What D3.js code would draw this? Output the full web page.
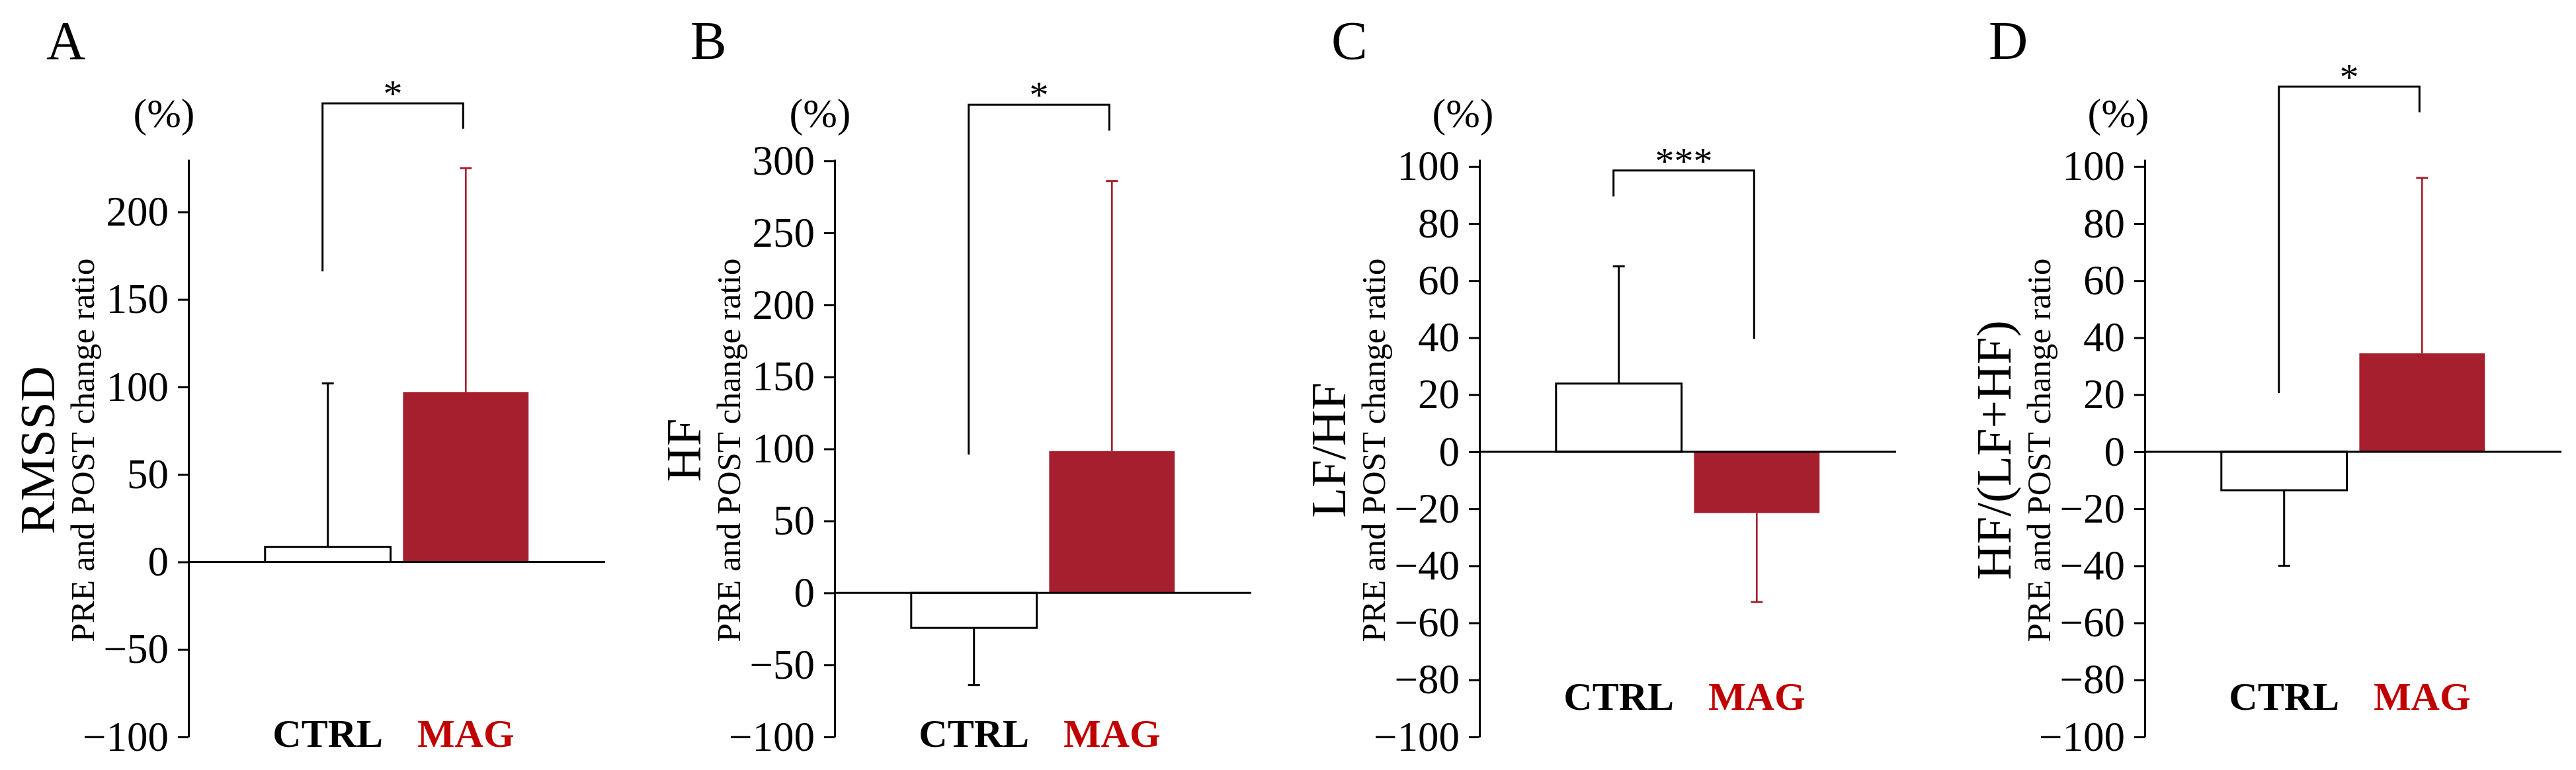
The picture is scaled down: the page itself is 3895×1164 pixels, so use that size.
<!DOCTYPE html>
<html>
<head>
<meta charset="utf-8">
<style>
    body { margin: 0; background: #fff; }
    svg { display: block; font-family: 'Liberation Serif', 'Times New Roman', serif; }
</style>
</head>
<body>
<svg width="3895" height="1164"></svg>

<script src="https://d3js.org/d3.v7.min.js"></script>
<script>
    // values
    const groups = ["CTRL", "MAG"];
    const panelLetters = ["A", "B", "C", "D"];
    const panelTitles = ["RMSSD", "HF", "LF/HF", "HF/(LF+HF)"];
    const subtitle = "PRE and POST change ratio";

    const ctrlMeans = [8.6, -24.3, 23.9, -13.5];
    const ctrlSD = [93.4, 39.7, 41.1, 26.5];
    const magMeans = [97, 98.4, -21.5, 34.5];
    const magSD = [128, 187.6, 31.2, 61.5];

    const yMin = -100;
    const yAxisMax = [230, 301, 102.5, 102.5];
    const yTicks = [
        [-100, -50, 0, 50, 100, 150, 200],
        [-100, -50, 0, 50, 100, 150, 200, 250, 300],
        [-100, -80, -60, -40, -20, 0, 20, 40, 60, 80, 100],
        [-100, -80, -60, -40, -20, 0, 20, 40, 60, 80, 100]
    ];

    // significance brackets (top, left leg end, right leg end) in axis units
    const sigLabels = ["*", "*", "***", "*"];
    const sigTop = [262, 339, 98.6, 128];
    const sigLeftEnd = [166, 96, 89.5, 20.6];
    const sigRightEnd = [247.5, 321, 39.6, 119];

    // layout
    const axisX = [285, 1262, 2237, 3243];
    const letterX = [70, 1044, 2013, 3007];
    const pctX = [248, 1240, 2212, 3203];
    const groupLabelY = [1129, 1129, 1073, 1073];
    const plotW = 630;
    const yBottom = 1114, yTop = 241;
    const red = "#a51f2f";
    const labelRed = "#c00000";

    let svg = d3.select("svg");

    panelLetters.forEach((letter, i) => {
        let g = svg.append("g").attr("transform", `translate(${axisX[i]},0)`);

        let y = d3.scaleLinear()
            .domain([yMin, yAxisMax[i]])
            .range([yBottom, yTop]);

        let x = d3.scaleBand()
            .domain(groups)
            .range([0, plotW])
            .paddingInner(0.09)
            .paddingOuter(0.555);

        // panel letter and unit
        svg.append("text")
            .attr("x", letterX[i])
            .attr("y", 89)
            .style("font-size", "82px")
            .text(letter);

        svg.append("text")
            .attr("x", pctX[i])
            .attr("y", 192)
            .attr("text-anchor", "middle")
            .style("font-size", "62px")
            .text("(%)");

        // y titles
        g.append("text")
            .attr("transform", `translate(-203,${(yBottom + yTop) / 2 + 3}) rotate(-90)`)
            .attr("text-anchor", "middle")
            .style("font-size", "75px")
            .text(panelTitles[i]);

        g.append("text")
            .attr("transform", `translate(-143,${(yBottom + yTop) / 2 + 3}) rotate(-90)`)
            .attr("text-anchor", "middle")
            .style("font-size", "51px")
            .text(subtitle);

        // bars
        let rows = groups.map((grp, j) => ({
            grp: grp,
            mean: j == 0 ? ctrlMeans[i] : magMeans[i],
            sd: j == 0 ? ctrlSD[i] : magSD[i]
        }));

        g.selectAll(".bar")
            .data(rows)
            .join("rect")
            .attr("x", d => x(d.grp))
            .attr("width", x.bandwidth())
            .attr("y", d => y(Math.max(0, d.mean)))
            .attr("height", d => Math.abs(y(d.mean) - y(0)))
            .style("fill", d => d.grp == "CTRL" ? "#fff" : red)
            .style("stroke", d => d.grp == "CTRL" ? "#000" : "none")
            .style("stroke-width", 3);

        // error bars, drawn away from zero
        let tip = d => d.mean + Math.sign(d.mean) * d.sd;
        let cx = d => x(d.grp) + x.bandwidth() / 2;

        g.selectAll(".err")
            .data(rows)
            .join("line")
            .attr("x1", cx).attr("x2", cx)
            .attr("y1", d => y(d.mean))
            .attr("y2", d => y(tip(d)))
            .style("stroke", d => d.grp == "CTRL" ? "#000" : red)
            .style("stroke-width", d => d.grp == "CTRL" ? 3 : 2.6);

        g.selectAll(".cap")
            .data(rows)
            .join("line")
            .attr("x1", d => cx(d) - 9).attr("x2", d => cx(d) + 9)
            .attr("y1", d => y(tip(d)))
            .attr("y2", d => y(tip(d)))
            .style("stroke", d => d.grp == "CTRL" ? "#000" : red)
            .style("stroke-width", 3);

        // y axis
        let axis = g.append("g")
            .call(d3.axisLeft(y)
                .tickValues(yTicks[i])
                .tickSize(16)
                .tickSizeOuter(0)
                .tickPadding(14));
        axis.select(".domain").style("stroke-width", 3);
        axis.selectAll(".tick line").style("stroke-width", 3);
        axis.selectAll(".tick text")
            .style("font-family", "'Liberation Serif', serif")
            .style("font-size", "63px");

        // zero line
        g.append("line")
            .attr("x1", 0).attr("x2", plotW)
            .attr("y1", y(0)).attr("y2", y(0))
            .style("stroke", "#000")
            .style("stroke-width", 3);

        // group labels
        g.selectAll(".grp")
            .data(groups)
            .join("text")
            .attr("x", d => x(d) + x.bandwidth() / 2)
            .attr("y", groupLabelY[i])
            .attr("text-anchor", "middle")
            .style("font-size", "60px")
            .style("font-weight", "bold")
            .style("fill", d => d == "CTRL" ? "#000" : labelRed)
            .text(d => d);

        // significance bracket
        let lx = x("CTRL") + x.bandwidth() / 2 - 8;
        let rx = x("MAG") + x.bandwidth() / 2 - 4;
        g.append("path")
            .attr("d", `M${lx},${y(sigLeftEnd[i])}V${y(sigTop[i])}H${rx}V${y(sigRightEnd[i])}`)
            .style("fill", "none")
            .style("stroke", "#000")
            .style("stroke-width", 3);

        g.append("text")
            .attr("x", (lx + rx) / 2)
            .attr("y", y(sigTop[i]) + 5)
            .attr("text-anchor", "middle")
            .style("font-size", "58px")
            .text(sigLabels[i]);
    });
</script>
</body>
</html>
